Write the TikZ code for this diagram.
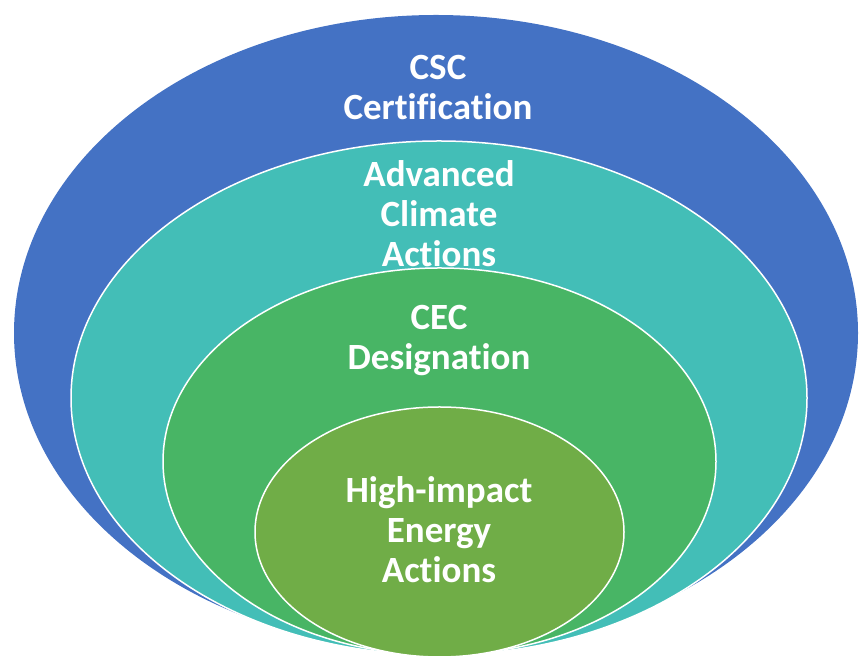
\documentclass[tikz,border=0pt]{standalone}
\usepackage{fontspec}
\setmainfont[Ligatures=CommonOff]{Carlito}
\usetikzlibrary{shapes.geometric,positioning}

\definecolor{cscblue}{HTML}{4472C4}
\definecolor{climteal}{HTML}{43BEB7}
\definecolor{cecgreen}{HTML}{48B565}
\definecolor{energyolive}{HTML}{70AD47}

\begin{document}
\begin{tikzpicture}[x=1pt,y=1pt,
  ring/.style={ellipse,inner sep=0pt,draw=white,line width=1.5pt},
  lab/.style={align=center,text=white,font=\fontsize{37}{40}\selectfont\bfseries,inner sep=0pt}]
\useasboundingbox (0,0) rectangle (859,660);
% nested levels, outer to inner
\node[ring,fill=cscblue,draw=none,minimum width=844pt,minimum height=636pt] (csc) at (436,327) {};
\node[ring,fill=climteal,minimum width=736pt,minimum height=514pt] (climate) at (439,262) {};
\node[ring,fill=cecgreen,minimum width=553pt,minimum height=387pt] (cec) at (439.5,198.5) {};
\node[ring,fill=energyolive,minimum width=369pt,minimum height=250pt] (energy) at (439.5,128) {};
% labels
\node[lab] (csclab) at (438,572) {CSC\\Certification};
\node[lab] (climlab) at (439,446) {Advanced\\Climate\\Actions};
\node[lab] (ceclab) at (439,319) {CEC\\Designation};
\node[lab] (energylab) at (439,130) {High-impact\\Energy\\Actions};
\end{tikzpicture}
\end{document}
